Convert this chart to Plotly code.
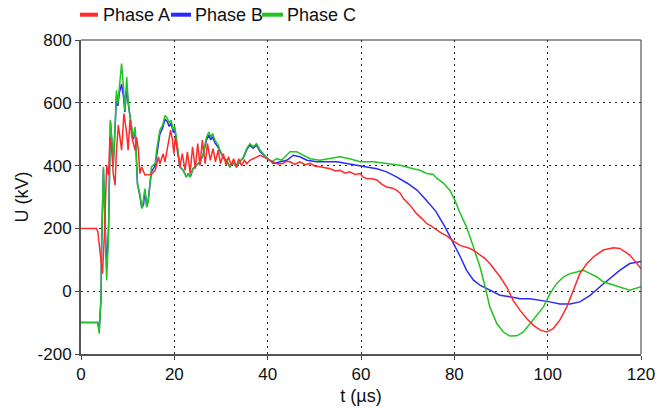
import plotly.graph_objects as go

# ---------------- data ----------------
t_a = [0, 3.3, 3.6, 4.1, 4.6, 5.0, 5.3, 5.5, 5.9, 6.2, 6.6, 6.9, 7.3, 7.6, 8.0, 8.4, 8.7, 9.2, 9.8,
       10.1, 10.5, 10.9, 11.6, 11.9, 12.3, 12.6, 13.0, 13.7, 14.4, 15.1, 15.9, 16.6, 16.9, 17.6, 18.0,
       18.7, 19.2, 19.6, 19.9, 20.2, 20.9, 21.2, 21.7, 22.3, 22.8, 23.4, 23.9, 24.5, 25.0, 25.5, 26.0,
       26.6, 27.1, 27.7, 28.3, 28.8, 29.4, 29.9, 30.5, 31.1, 31.6, 32.2, 32.7, 33.3, 33.8, 34.4, 35.0,
       35.5, 36.2, 36.9, 37.6, 38.4, 39.1, 39.8, 40.5, 41.2, 42.0, 43.3, 44.0, 44.8, 45.8, 46.9, 48.0,
       49.1, 50.2, 51.2, 52.3, 53.4, 54.5, 55.5, 56.6, 57.6, 58.7, 59.8, 60.5, 61.2, 62.3, 63.4, 64.5,
       65.5, 66.6, 67.6, 68.4, 69.1, 70.5, 71.9, 73.0, 74.1, 75.0, 76.2, 77.3, 78.4, 79.5, 81.2, 82.3,
       83.4, 84.5, 85.5, 86.6, 87.6, 88.7, 89.8, 91.2, 92.6, 94.1, 95.5, 96.9, 98.4, 99.8, 101.2, 102.6,
       104.1, 105.5, 106.9, 108.4, 109.8, 111.9, 114.1, 115.5, 117.6, 120]
u_a = [200, 200, 190, 131, 56, 173, 343, 401, 370, 491, 449, 375, 338, 449, 529, 491, 449, 566, 502,
       449, 545, 491, 449, 491, 449, 375, 396, 370, 370, 372, 385, 428, 406, 438, 412,
       470, 513, 481, 438, 491, 428, 396, 438, 385, 444, 375, 460, 390, 470, 400, 481,
       406, 470, 417, 454, 412, 449, 406, 438, 400, 428, 400, 422, 396, 422, 400, 417,
       406, 417, 422, 428, 433, 428, 422, 416, 412, 405, 407, 414, 412, 404, 412, 403,
       407, 398, 396, 392, 390, 383, 385, 376, 380, 372, 375, 363, 359, 358, 354, 340,
       332, 329, 322, 312, 295, 274, 247, 232, 215, 208, 196, 184, 176, 163, 146, 141,
       136, 126, 115, 104, 88, 68, 46, 14, -29, -61, -87, -108, -124, -130, -119, -92,
       -50, 3, 56, 88, 109, 131, 138, 136, 115, 72]

t_b = [0, 3.6, 3.9, 4.3, 4.4, 4.8, 5.0, 5.3, 5.5, 5.9, 6.1, 6.3, 6.6, 6.9, 7.3, 7.6, 7.9, 8.2, 8.7,
       9.1, 9.4, 9.8, 10.1, 10.5, 10.9, 11.2, 11.6, 11.9, 12.1, 12.6, 13.0, 13.4, 13.7, 14.1, 14.4,
       15.1, 15.9, 16.9, 17.5, 18.0, 18.5, 18.9, 19.3, 19.8, 20.1, 20.5, 20.9, 21.2, 21.9, 22.6, 23.0,
       23.4, 24.0, 24.7, 25.5, 26.2, 26.9, 27.4, 27.8, 28.2, 28.7, 29.4, 29.8, 30.5, 31.2, 31.9, 32.6,
       33.3, 34.0, 34.8, 35.5, 36.2, 36.9, 37.6, 38.4, 39.0, 39.8, 41.2, 42.6, 44.1, 45.5, 46.9, 48.4,
       50.5, 52.6, 54.8, 56.9, 59.1, 61.2, 63.4, 65.5, 67.6, 70.0, 72.0, 74.0, 76.0, 78.0, 80.0, 81.2,
       82.6, 84.1, 85.5, 87.6, 89.8, 91.9, 94.1, 96.2, 98.4, 100.5, 102.6, 104.8, 106.9, 109.1, 111.2,
       113.4, 115.5, 117.6, 120]
u_b = [-100, -100, -125, -20, 131, 390, 290, 150, 70, 200, 396, 540, 481, 400, 520, 620, 590, 630, 660,
       620, 570, 650, 600, 550, 515, 485, 515, 410, 340, 305, 265, 275, 320, 268, 290,
       380, 400, 500, 520, 548, 540, 525, 535, 505, 515, 470, 425, 396, 385, 364, 375,
       364, 390, 400, 412, 435, 482, 497, 482, 492, 472, 458, 444, 425, 415, 396, 410,
       396, 412, 425, 450, 465, 455, 465, 444, 435, 425, 407, 412, 417, 433, 428, 417,
       412, 412, 412, 407, 401, 396, 390, 380, 364, 343, 322, 290, 255, 205, 150, 112,
       67, 35, 19, 3, -13, -18, -24, -24, -29, -34, -41, -41, -34, -13, 14,
       40, 67, 88, 95]

t_c = [0, 3.6, 3.9, 4.3, 4.4, 4.8, 5.0, 5.3, 5.5, 5.9, 6.1, 6.3, 6.6, 6.9, 7.3, 7.6, 7.9, 8.2, 8.7,
       9.1, 9.4, 9.8, 10.1, 10.5, 10.9, 11.2, 11.6, 11.9, 12.1, 12.6, 13.1, 13.7, 14.1, 14.4, 15.1,
       15.9, 16.2, 16.9, 17.5, 18.0, 18.5, 18.9, 19.3, 19.8, 20.1, 20.5, 20.9, 21.2, 21.9, 22.6, 23.0,
       23.4, 24.0, 24.7, 25.5, 26.2, 26.9, 27.4, 27.8, 28.2, 28.7, 29.4, 29.8, 30.5, 31.2, 31.9, 32.6,
       33.3, 34.0, 34.8, 35.5, 36.2, 36.9, 37.6, 38.4, 39.0, 39.8, 40.9, 41.9, 43.0, 44.8, 46.2, 47.6,
       49.1, 51.2, 53.4, 55.5, 57.6, 59.8, 62.6, 65.5, 68.4, 71.2, 72.6, 74.1, 75.5, 76.2, 77.6, 79.1,
       80.1, 81.2, 82.6, 84.1, 85.5, 86.6, 87.6, 89.1, 90.5, 91.9, 93.4, 94.8, 96.2, 97.6, 99.1, 100.5,
       101.9, 103.4, 104.8, 106.2, 107.6, 109.1, 110.5, 111.9, 114.1, 116.2, 117.6, 120]
u_c = [-100, -100, -135, -18, 131, 396, 290, 131, 35, 185, 396, 545, 481, 396, 523, 640, 598, 650, 725,
       651, 576, 682, 608, 555, 523, 491, 523, 417, 343, 311, 263, 327, 269, 285, 396,
       407, 449, 513, 529, 560, 551, 535, 545, 513, 525, 481, 428, 396, 385, 364, 375,
       364, 390, 400, 412, 438, 491, 507, 491, 502, 481, 465, 449, 428, 417, 396, 412,
       396, 412, 428, 454, 470, 460, 470, 449, 438, 425, 412, 422, 417, 444, 444, 433,
       422, 417, 422, 428, 422, 412, 412, 407, 401, 390, 385, 375, 372, 360, 345, 320,
       290, 250, 205, 141, 77, 14, -50, -103, -130, -143, -142, -130, -103, -76, -50, -8,
       24, 46, 56, 61, 67, 56, 46, 30, 19, 8, 3, 14]

series_names = ["Phase A", "Phase B", "Phase C"]
x_ticks = [0, 20, 40, 60, 80, 100, 120]
y_ticks = [-200, 0, 200, 400, 600, 800]
y_tick_text = ["-200", "0", "200", "400", "600", "800"]

# ---------------- styling ----------------
RED, BLUE, GREEN = "#ff2a2a", "#2a2aff", "#22c422"
FONT = "Liberation Sans, Arial, sans-serif"
W, H = 670, 414
L, R, T, B = 81, 29, 40, 60
PW, PH = W - L - R, H - T - B


def px_to_paper(px, py):
    return (px - L) / PW, (H - B - py) / PH


fig = go.Figure()
for t, u, c in [(t_b, u_b, BLUE), (t_c, u_c, GREEN), (t_a, u_a, RED)]:
    fig.add_trace(go.Scatter(x=t, y=u, mode="lines", line=dict(color=c, width=1.5),
                             showlegend=False, hoverinfo="skip"))

# custom legend (short thick bars + labels)
legend_items = [(series_names[0], RED, 80, 98, 101),
                (series_names[1], BLUE, 171, 191, 192.5),
                (series_names[2], GREEN, 262, 283, 284.5)]
shapes = []
annotations = []
for name, col, x0, x1, tx in legend_items:
    px0, py0 = px_to_paper(x0, 14.7)
    px1, _ = px_to_paper(x1, 14.7)
    shapes.append(dict(type="line", xref="paper", yref="paper", x0=px0, x1=px1, y0=py0, y1=py0,
                       line=dict(color=col, width=4)))
    tx_p, _ = px_to_paper(tx, 14.7)
    annotations.append(dict(text=name, xref="paper", yref="paper", x=tx_p, y=py0,
                            xanchor="left", yanchor="middle", showarrow=False,
                            font=dict(family=FONT, size=18, color="#111")))

# thin top / right border
shapes.append(dict(type="line", xref="paper", yref="paper", x0=0, x1=1, y0=1, y1=1,
                   line=dict(color="#333", width=1)))
shapes.append(dict(type="line", xref="paper", yref="paper", x0=1, x1=1, y0=0, y1=1,
                   line=dict(color="#333", width=1)))

grid = dict(showgrid=True, gridcolor="#222", gridwidth=1, griddash="2px,4px")

fig.update_layout(
    width=W, height=H,
    margin=dict(l=L, r=R, t=T, b=B, autoexpand=False),
    paper_bgcolor="white", plot_bgcolor="white",
    font=dict(family=FONT, size=17, color="#111"),
    shapes=shapes, annotations=annotations,
    xaxis=dict(range=[0, 120], tickvals=x_ticks, ticks="outside", ticklen=4, tickcolor="#444",
               showline=True, linecolor="#555", linewidth=2, zeroline=False,
               title=dict(text="t (µs)", font=dict(size=18), standoff=6), **grid),
    yaxis=dict(range=[-200, 800], tickvals=y_ticks, ticktext=y_tick_text, ticks="outside",
               ticklen=4, tickcolor="#444",
               showline=True, linecolor="#555", linewidth=2, zeroline=False,
               title=dict(text="U (kV)", font=dict(size=18), standoff=4), **grid),
)

fig.write_html("out.html")
